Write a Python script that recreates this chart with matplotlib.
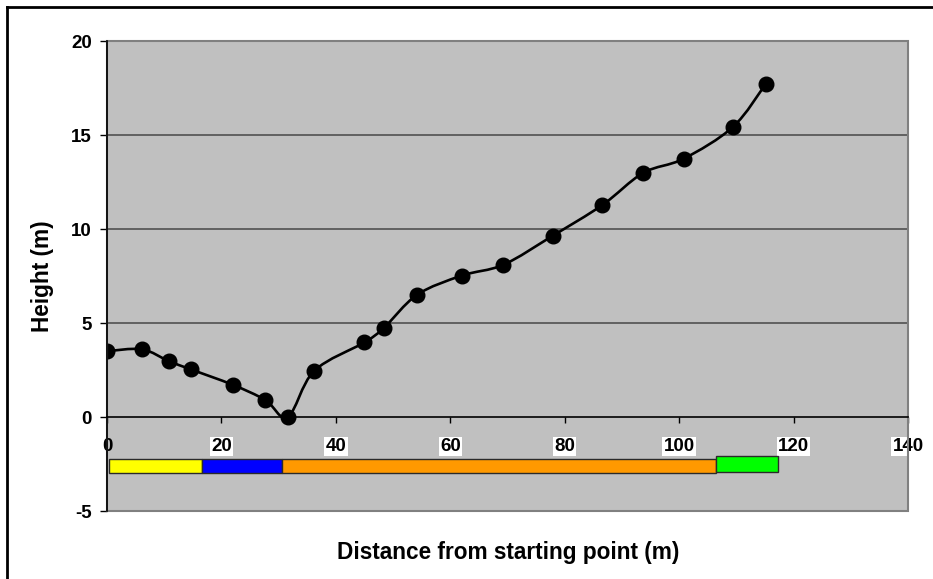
import numpy as np
import matplotlib
matplotlib.use("Agg")
import matplotlib.pyplot as plt
from matplotlib.path import Path
from matplotlib.patches import PathPatch, Rectangle
from matplotlib.lines import Line2D

# ---- data ----
dist = [0, 6.1, 10.9, 14.6, 22.0, 27.7, 31.6, 36.2, 45.0, 48.4, 54.2,
        62.0, 69.3, 77.9, 86.6, 93.7, 100.8, 109.4, 115.1]
height = [3.5, 3.6, 2.96, 2.54, 1.71, 0.9, 0.0, 2.45, 3.97, 4.74, 6.5,
          7.52, 8.1, 9.64, 11.28, 12.98, 13.74, 15.43, 17.7]

seg_start = [0.4, 16.6, 30.5, 106.4]
seg_end = [16.6, 30.5, 106.4, 117.2]
seg_y = [-2.6, -2.6, -2.6, -2.5]
seg_h = [0.75, 0.75, 0.75, 0.8]
seg_colors = ["#FFFF00", "#0000FF", "#FF9900", "#00FF00"]

xticks = [0, 20, 40, 60, 80, 100, 120, 140]
yticks = [-5, 0, 5, 10, 15, 20]

plt.rcParams['font.family'] = ['Liberation Sans', 'DejaVu Sans']
plt.rcParams['font.weight'] = 'bold'

W, H = 933, 579
fig = plt.figure(figsize=(W / 100, H / 100), dpi=100)
ax = fig.add_axes([107 / W, 1 - 511 / H, 801 / W, 470 / H])
ax.set_facecolor("#C0C0C0")
ax.set_xlim(0, 140)
ax.set_ylim(-5, 20)

# gridlines
for yv in yticks:
    if yv not in (0, -5, 20):
        ax.axhline(yv, color="#5a5a5a", lw=1.3, zorder=1)

# colored segments
widths = [e - s for s, e in zip(seg_start, seg_end)]
ax.barh(seg_y, widths, left=seg_start, height=seg_h, color=seg_colors,
        edgecolor="#2a2a2a", linewidth=1.0, zorder=2)

# smoothed line (Catmull-Rom as cubic Bezier through the data points)
P = np.column_stack([dist, height])
verts = [tuple(P[0])]
codes = [Path.MOVETO]
n = len(P)
for i in range(n - 1):
    p0 = P[i - 1] if i > 0 else P[i]
    p1 = P[i]
    p2 = P[i + 1]
    p3 = P[i + 2] if i + 2 < n else P[i + 1]
    c1 = p1 + (p2 - p0) / 6.0
    c2 = p2 - (p3 - p1) / 6.0
    verts += [tuple(c1), tuple(c2), tuple(p2)]
    codes += [Path.CURVE4] * 3
ax.add_patch(PathPatch(Path(verts, codes), facecolor="none",
                       edgecolor="black", lw=1.9, zorder=3))
ax.plot(dist, height, linestyle="none", marker="o", markersize=10.5,
        color="black", zorder=4)

# border of plot area
ax.add_patch(Rectangle((0, 0), 1, 1, transform=ax.transAxes, fill=False,
                       edgecolor="#808080", lw=1.5, zorder=5, clip_on=False))
for s in ("top", "right"):
    ax.spines[s].set_visible(False)
ax.spines["bottom"].set_position(("data", 0))
ax.spines["bottom"].set_color("black")
ax.spines["bottom"].set_linewidth(1.2)
ax.spines["bottom"].set_zorder(6)
ax.spines["left"].set_color("black")
ax.spines["left"].set_linewidth(1.2)
ax.spines["left"].set_zorder(6)

ax.set_xticks(xticks)
ax.set_xticklabels([str(v) for v in xticks])
ax.set_yticks(yticks)
ax.set_yticklabels([str(v) for v in yticks])
ax.tick_params(axis="x", direction="out", length=4.5, width=1, pad=10.5,
               labelsize=13.5)
ax.tick_params(axis="y", direction="out", length=5, width=1, pad=6,
               labelsize=13.5)
for lab in ax.get_xticklabels():
    lab.set_fontweight("bold")
    if lab.get_text() != "0":
        lab.set_bbox(dict(facecolor="white", edgecolor="none", pad=1.0))
    lab.set_zorder(7)
for lab in ax.get_yticklabels():
    lab.set_fontweight("bold")

fig.text(43 / W, 1 - 276 / H, "Height (m)", rotation=90, ha="center",
         va="center", fontsize=16.3, fontweight="bold")
fig.text(508 / W, 1 - 552 / H, "Distance from starting point (m)",
         ha="center", va="center", fontsize=16.3, fontweight="bold")

# outer frame (top and left edges visible)
fig.add_artist(Line2D([6.5 / W, 6.5 / W], [0, 1 - 6.5 / H],
                      transform=fig.transFigure, color="black", lw=2.0))
fig.add_artist(Line2D([6.5 / W, 1], [1 - 6.5 / H, 1 - 6.5 / H],
                      transform=fig.transFigure, color="black", lw=2.0))

fig.savefig("out.png", dpi=100)
